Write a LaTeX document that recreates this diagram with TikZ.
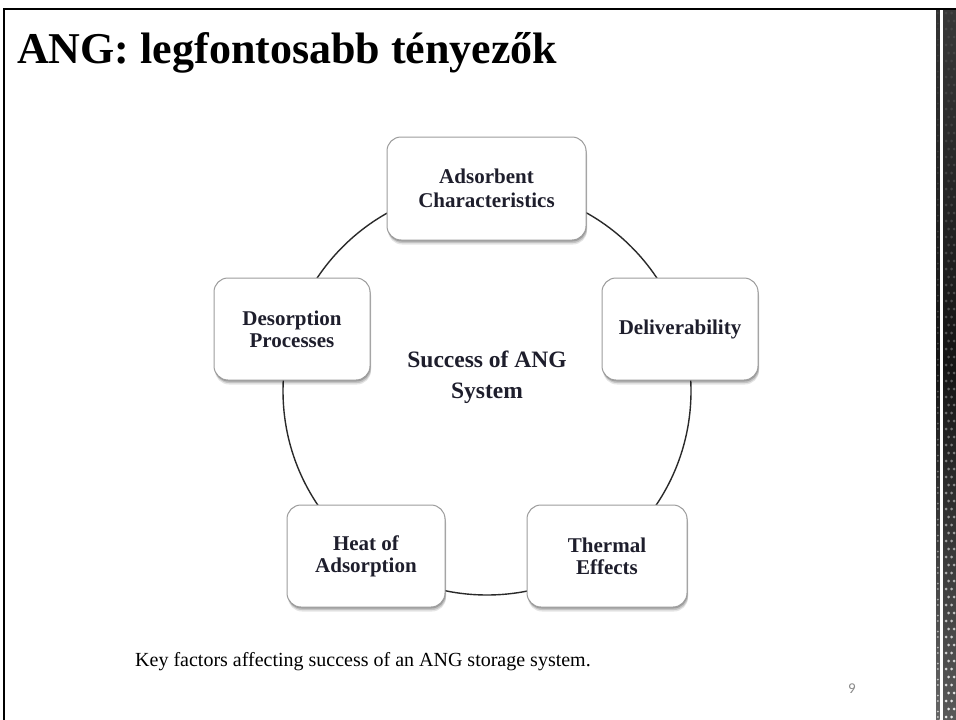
\documentclass[tikz,border=0pt]{standalone}
\usepackage{fontspec}
\setmainfont{Liberation Serif}
\newfontfamily\pgnumfont{Carlito}
\definecolor{boxtext}{HTML}{1E1E2C}
\definecolor{boxline}{HTML}{9C9C9C}
\definecolor{ringline}{HTML}{2A2A2A}
\definecolor{pagenum}{HTML}{8A8A8A}
\begin{document}
\begin{tikzpicture}[x=1pt,y=-1pt,
  factor/.style={draw=boxline, line width=1pt, fill=white, rounded corners=14pt,
    align=center, text=boxtext, inner sep=0pt,
    font=\fontsize{21}{22}\selectfont\bfseries,
    preaction={fill=black, fill opacity=0.10, transform canvas={xshift=1pt,yshift=-4.5pt}},
    preaction={fill=black, fill opacity=0.14, transform canvas={xshift=1pt,yshift=-3pt}},
    preaction={fill=black, fill opacity=0.18, transform canvas={xshift=0.5pt,yshift=-1.5pt}}},
  ring/.style={draw=ringline, line width=1.4pt},
  frameline/.style={draw=black, line width=2.2pt}]
\useasboundingbox (0,0) rectangle (956,720);
\fill[white] (0,0) rectangle (956,720);

% decorative right strip
\shade[top color=black!78, bottom color=black!65, middle color=black!92] (943,9) rectangle (956,720);
\shade[top color=black!80, bottom color=black!60, middle color=black!92] (936,9) rectangle (939.5,720);
\foreach \j in {0,...,88} {
  \pgfmathsetmacro\op{0.08+0.8*(\j/88)^2}
  \pgfmathsetmacro\off{mod(\j,2)*2.5}
  \fill[white, opacity=\op] (946+\off,13+8*\j) circle[radius=1.5];
  \fill[white, opacity=\op] (951.5+\off,13+8*\j) circle[radius=1.5];
  \fill[white, opacity=\op*0.8] (937.8,13+8*\j+\off) circle[radius=1];
}

% slide frame
\draw[frameline] (4,720) -- (4,9) -- (956,9);

% title
\node[anchor=base west, inner sep=0pt, font=\fontsize{44}{48}\selectfont\bfseries] (title) at (17,63) {ANG: legfontosabb tényezők};

% ring
\coordinate (ringc) at (487,391);
\draw[ring] (ringc) circle[radius=204];

% factors
\node[factor, minimum width=199pt, minimum height=103pt] (ads) at (486.5,188.5) {Adsorbent\\[2pt]Characteristics};
\node[factor, minimum width=156pt, minimum height=102pt] (del) at (680,329) {Deliverability};
\node[factor, minimum width=156pt, minimum height=102pt] (des) at (292,329) {Desorption\\Processes};
\node[factor, minimum width=158pt, minimum height=102pt] (heat) at (366,556) {Heat of\\Adsorption};
\node[factor, minimum width=160pt, minimum height=102pt] (therm) at (607,556) {Thermal\\Effects};

% centre text
\node[align=center, text=boxtext, inner sep=0pt, font=\fontsize{23.5}{31}\selectfont\bfseries] (cen) at (487,377) {Success of ANG\\System};

% caption
\node[anchor=base west, inner sep=0pt, font=\fontsize{20}{22}\selectfont] (caption) at (135,666) {Key factors affecting success of an ANG storage system.};

% page number
\node[text=pagenum, inner sep=0pt, font=\pgnumfont\fontsize{15}{16}\selectfont] (pg) at (852,689) {9};
\end{tikzpicture}
\end{document}
